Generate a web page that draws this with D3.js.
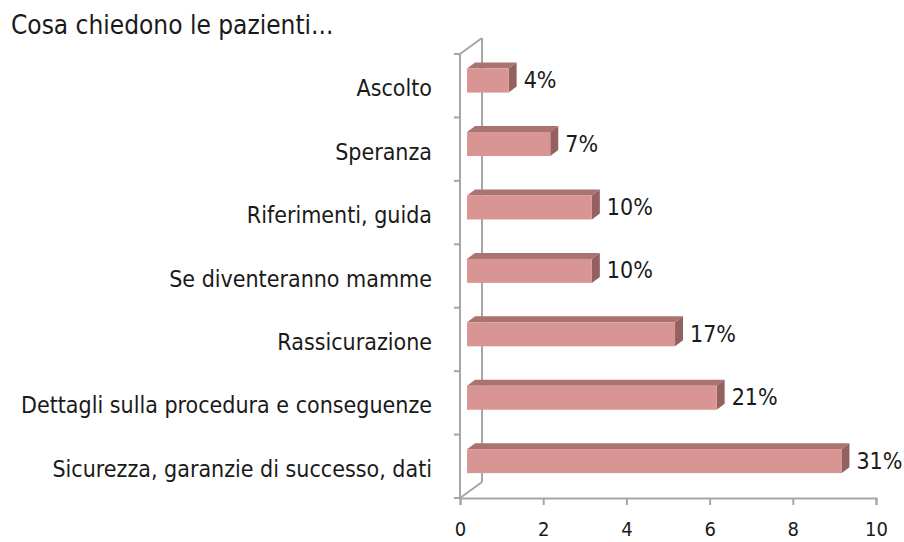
<!DOCTYPE html>
<html>
<head>
<meta charset="utf-8">
<script src="https://cdn.jsdelivr.net/npm/d3@7/dist/d3.min.js"></script>
<style>
  html, body { margin: 0; padding: 0; background: #ffffff; }
  svg text { font-family: "DejaVu Sans Condensed", "Liberation Sans", sans-serif; fill: #1a1a1a; }
</style>
</head>
<body>
<svg id="chart" width="904" height="542"></svg>
<script>
// Categories from top to bottom
const categories = [
  "Ascolto",
  "Speranza",
  "Riferimenti, guida",
  "Se diventeranno mamme",
  "Rassicurazione",
  "Dettagli sulla procedura e conseguenze",
  "Sicurezza, garanzie di successo, dati"
];
// Number of answers per category
const counts = [1, 2, 3, 3, 5, 6, 9];
// Share labels shown at the end of each bar
const shareLabels = ["4%", "7%", "10%", "10%", "17%", "21%", "31%"];
// Horizontal axis ticks
const xTicks = [0, 2, 4, 6, 8, 10];
const title = "Cosa chiedono le pazienti...";

const svg = d3.select("#chart");
const fontSize = 23;

// Plot frame (front plane) and 3D depth of the back wall
const frame = { left: 460, right: 876, top: 54, bottom: 498 };
const wallDX = 22, wallDY = 16;       // full depth offset of the back wall
const barDepthStart = 0.32;           // bar front face position inside the depth
const barDX = 8, barDY = 6;           // bar thickness in depth
const barH = 24;

const x = d3.scaleLinear().domain([0, 10]).range([frame.left, frame.right]);
const y = d3.scaleBand().domain(categories).range([frame.top, frame.bottom]).padding(0);

const axisColor = "#a6a6a6";

// Title
svg.append("text")
  .attr("x", 11).attr("y", 34)
  .attr("font-size", 26)
  .text(title);

// Walls: back vertical line, floor diagonal, top diagonal
const g = svg.append("g");
g.append("line")
  .attr("x1", frame.left + wallDX).attr("y1", frame.top - wallDY)
  .attr("x2", frame.left + wallDX).attr("y2", frame.bottom - wallDY)
  .attr("stroke", axisColor).attr("stroke-width", 2);
g.append("line")
  .attr("x1", frame.left).attr("y1", frame.bottom)
  .attr("x2", frame.left + wallDX).attr("y2", frame.bottom - wallDY)
  .attr("stroke", axisColor).attr("stroke-width", 2);
g.append("line")
  .attr("x1", frame.left).attr("y1", frame.top)
  .attr("x2", frame.left + wallDX).attr("y2", frame.top - wallDY)
  .attr("stroke", axisColor).attr("stroke-width", 2);

// Bottom axis
const xAxis = d3.axisBottom(x).tickValues(xTicks).tickSize(7).tickPadding(17).tickFormat(d3.format("d"));
const gx = svg.append("g").attr("transform", `translate(0,${frame.bottom})`).call(xAxis);
gx.select(".domain").attr("stroke", axisColor).attr("stroke-width", 2);
gx.selectAll(".tick line").attr("stroke", axisColor).attr("stroke-width", 2);
gx.selectAll(".tick text")
  .attr("font-size", 20)
  .attr("font-family", null)
  .attr("fill", "#1a1a1a");

// Left axis (category boundaries as ticks)
const boundaries = d3.range(categories.length + 1).map(i => frame.top + i * y.step());
svg.append("line")
  .attr("x1", frame.left).attr("y1", frame.top)
  .attr("x2", frame.left).attr("y2", frame.bottom)
  .attr("stroke", axisColor).attr("stroke-width", 2);
svg.selectAll(".ytick").data(boundaries).join("line")
  .attr("class", "ytick")
  .attr("x1", frame.left - 6).attr("x2", frame.left)
  .attr("y1", d => d).attr("y2", d => d)
  .attr("stroke", axisColor).attr("stroke-width", 2);

// Category labels
svg.selectAll(".cat").data(categories).join("text")
  .attr("class", "cat")
  .attr("x", 432)
  .attr("y", d => y(d) + y.bandwidth() / 2 + 4)
  .attr("text-anchor", "end")
  .attr("dominant-baseline", "middle")
  .attr("font-size", fontSize)
  .text(d => d);

// Bars (front, top, side faces)
const ox = wallDX * barDepthStart, oy = wallDY * barDepthStart;
const rows = categories.map((c, i) => ({ cat: c, value: counts[i], label: shareLabels[i] }));
const bars = svg.selectAll(".bar").data(rows).join("g").attr("class", "bar");

const geo = d => {
  const x0 = x(0) + ox, x1 = x(d.value) + ox;
  const yc = y(d.cat) + y.bandwidth() / 2 - oy;
  return { x0, x1, yt: yc - barH / 2, yb: yc + barH / 2, yc };
};

bars.append("path")   // top face
  .attr("d", d => { const b = geo(d); return `M${b.x0},${b.yt}L${b.x0 + barDX},${b.yt - barDY}L${b.x1 + barDX},${b.yt - barDY}L${b.x1},${b.yt}Z`; })
  .attr("fill", "#aa7371");
bars.append("path")   // side face
  .attr("d", d => { const b = geo(d); return `M${b.x1},${b.yt}L${b.x1 + barDX},${b.yt - barDY}L${b.x1 + barDX},${b.yb - barDY}L${b.x1},${b.yb}Z`; })
  .attr("fill", "#946060");
bars.append("rect")   // front face
  .attr("x", d => geo(d).x0)
  .attr("y", d => geo(d).yt)
  .attr("width", d => geo(d).x1 - geo(d).x0)
  .attr("height", barH)
  .attr("fill", "#d99594");

// Share labels
bars.append("text")
  .attr("x", d => geo(d).x1 + barDX + 7)
  .attr("y", d => geo(d).yc + 1)
  .attr("dominant-baseline", "middle")
  .attr("font-size", fontSize)
  .text(d => d.label);
</script>
</body>
</html>
